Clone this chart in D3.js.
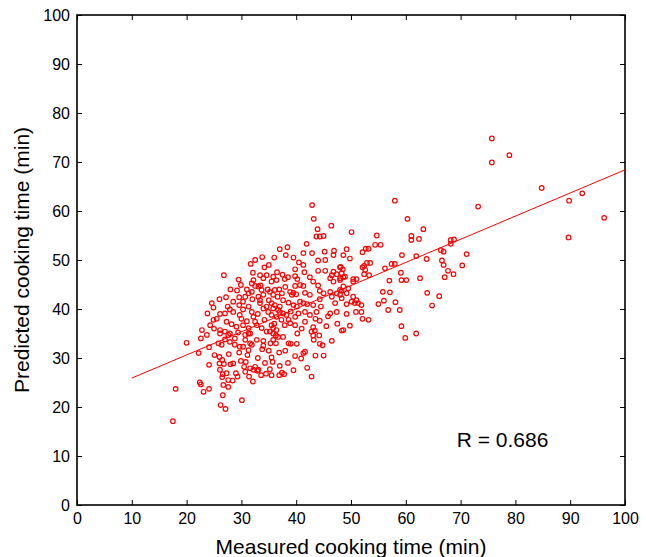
<!DOCTYPE html>
<html>
<head>
<meta charset="utf-8">
<script src="https://cdn.jsdelivr.net/npm/d3@7"></script>
<style>
  body { margin: 0; background: #fff; }
  text { font-family: "Liberation Sans", Arial, sans-serif; }
</style>
</head>
<body>
<svg id="chart" width="646" height="557"></svg>
<script>
// measured vs predicted cooking time (min)
const measured = [
  75.7, 75.7, 78.9, 84.8, 89.8, 92.2, 96.2, 89.7, 73.2,
  42.9, 58.0, 43.2, 60.3, 46.4, 43.9, 50.1, 63.2, 43.7, 44.3, 45.0, 54.7, 54.4, 55.4, 61.0, 61.0, 62.4,
  41.9, 38.4, 38.1, 41.3, 42.9, 45.2, 46.9, 49.2, 48.6, 49.8, 52.7, 53.2, 52.1, 59.3, 63.8, 68.2, 68.8, 68.2, 66.4, 66.9,
  71.1, 66.6, 66.9, 70.3, 67.7, 68.7, 67.1, 62.6, 63.9, 66.1, 64.8, 61.9,
  61.9, 53.5, 52.9, 52.4, 52.1, 57.4, 58.0, 56.2, 52.6, 52.4, 48.0, 48.3, 48.6, 48.0, 50.4, 51.0, 50.4, 53.3, 59.1,
  57.0, 59.2, 60.1, 48.6, 49.5, 48.0, 55.8, 57.1, 48.0, 48.3, 50.4, 51.0, 51.3, 50.7, 51.9, 50.1, 49.2, 55.0, 56.0,
  58.1, 56.8, 58.9, 50.9, 49.2, 51.9, 52.1, 53.2, 49.8, 59.2, 48.3, 59.9,
  35.8, 36.3, 36.7, 35.8, 36.3, 35.3, 37.6, 38.6, 39.0, 40.2, 40.1, 42.8, 43.1, 44.2, 43.2, 44.3, 44.8, 36.9, 35.5,
  35.7, 39.8, 40.9, 41.6, 41.3, 37.0, 35.2, 37.4, 37.8, 36.9, 35.5, 42.8,
  46.8, 41.3, 44.0, 45.3, 48.1, 48.5, 39.8, 44.0, 45.3, 46.8, 47.4, 48.9, 46.5, 46.2, 46.8, 48.0, 39.8, 40.2, 37.9,
  35.8, 36.4, 35.5, 43.1, 40.7, 41.3, 39.8, 38.9, 39.2, 39.5, 36.9, 37.4, 35.2, 35.8, 41.6, 42.5, 44.3, 45.0, 46.2,
  47.4, 48.3, 49.2, 46.5, 44.3, 43.1, 47.1, 40.7, 41.3, 39.5, 40.1, 37.6, 38.6, 35.5, 35.8, 37.0, 37.6, 38.2, 38.6,
  36.4, 37.3, 37.9, 38.9, 39.8, 40.4, 41.6, 42.5, 43.7, 46.2, 47.4, 41.6, 39.8, 43.1, 43.4, 44.3, 48.6, 35.5, 35.8, 35.2,
  33.8, 31.7, 26.8, 32.1, 33.4, 34.6, 34.0, 32.2, 31.9, 32.5, 29.9, 31.0, 31.3, 31.9, 27.2, 29.6, 30.7, 30.3, 33.1,
  33.7, 34.0, 33.1, 33.4, 36.1, 36.6, 24.6, 24.9, 23.8, 26.1, 27.0, 27.9, 28.5, 24.9, 24.3, 29.6, 30.3, 29.7, 31.3,
  31.9, 32.2, 32.5, 33.4, 34.0, 34.6, 34.9, 35.5, 36.1, 36.7, 27.3, 28.2, 29.1, 26.1, 27.0, 27.9, 30.3, 31.3, 31.6,
  30.7, 32.8, 33.7, 34.6, 36.4, 23.7, 22.8,
  20.0, 22.6, 22.2, 24.1, 24.1, 22.4, 22.6, 23.1, 24.1, 18.0, 17.5, 26.7, 27.6, 26.6, 26.2, 27.1, 30.1, 25.1, 26.0,
  26.5, 27.7, 26.0, 26.8, 28.0, 28.5, 29.0, 29.3, 26.1, 26.6, 27.3, 27.6, 26.5, 28.4, 29.6, 29.9, 30.5, 30.7, 31.4,
  32.1, 31.6, 32.2, 31.3, 31.6, 30.3, 32.5, 32.9, 26.1, 27.6, 29.4, 31.3, 32.8, 31.9, 30.7, 29.7, 28.8, 27.9, 27.0,
  26.4, 25.8, 31.1, 30.8, 33.1, 33.8, 34.3, 34.0, 34.5,
  28.5, 29.2, 30.0, 31.0, 32.0, 33.0, 34.2, 35.0, 36.0, 37.0, 38.0, 39.0, 40.0, 41.0, 42.0, 43.5, 44.5, 45.5,
  33.5, 34.8, 36.5, 37.5, 38.5, 34.2, 35.0, 36.0, 32.5, 29.5, 28.0, 27.5, 25.5, 26.0, 25.0, 28.8, 33.6, 33.0,
  34.0, 35.0, 38.0, 38.5, 39.5, 42.0, 43.5, 45.0, 46.5, 47.5, 45.8, 44.0, 42.5, 41.5, 40.5, 39.5, 37.0
];
const predicted = [
  74.8, 69.9, 71.4, 64.7, 62.1, 63.6, 58.6, 54.6, 60.9,
  61.2, 62.1, 58.4, 58.4, 57.0, 56.3, 55.7, 56.3, 54.8, 54.8, 54.9, 55.0, 53.1, 53.1, 54.9, 54.1, 54.3,
  53.3, 52.6, 51.0, 51.4, 51.4, 51.7, 51.9, 52.2, 51.0, 50.3, 52.3, 52.3, 51.6, 51.0, 50.2, 54.1, 54.2, 53.3, 52.0, 51.7,
  51.2, 49.9, 49.0, 48.9, 47.8, 47.1, 46.5, 46.3, 43.3, 42.6, 40.7, 35.0,
  50.8, 49.4, 49.4, 48.8, 48.5, 49.2, 49.2, 48.3, 48.0, 47.1, 48.5, 47.3, 46.5, 46.3, 46.1, 46.1, 45.6, 46.9, 47.4,
  45.8, 45.9, 45.9, 44.6, 44.2, 43.9, 43.5, 43.4, 42.9, 42.2, 42.5, 41.8, 41.2, 41.2, 40.8, 41.5, 41.0, 41.0, 41.7,
  41.4, 39.8, 39.8, 39.4, 39.0, 39.4, 38.0, 37.8, 36.6, 36.5, 35.6, 34.1,
  35.0, 34.6, 34.3, 33.7, 33.0, 33.0, 34.3, 33.0, 32.9, 35.0, 32.9, 35.4, 34.6, 34.6, 33.7, 32.9, 32.6, 31.1, 30.1,
  29.2, 30.4, 29.9, 31.3, 31.0, 28.4, 27.7, 27.0, 26.7, 26.5, 26.5, 26.2,
  51.0, 49.0, 49.9, 50.0, 48.6, 48.1, 48.1, 47.8, 47.8, 47.6, 47.1, 46.6, 46.9, 46.3, 45.6, 45.9, 46.7, 46.1, 46.1,
  46.6, 45.9, 45.6, 45.6, 44.9, 44.7, 44.7, 43.5, 42.9, 43.3, 44.0, 43.2, 43.5, 42.9, 43.3, 42.9, 43.7, 43.2, 43.5,
  43.2, 43.7, 43.2, 42.5, 42.0, 40.8, 41.2, 41.5, 41.2, 40.8, 40.5, 41.8, 41.3, 41.2, 40.1, 39.4, 39.1, 38.8, 37.8,
  38.4, 37.8, 36.7, 37.1, 38.4, 39.1, 39.4, 38.8, 39.4, 39.1, 39.4, 37.4, 36.7, 36.3, 35.6, 37.6, 35.7, 36.7, 36.1, 35.4,
  50.6, 49.2, 46.9, 47.4, 46.9, 46.9, 46.3, 45.9, 45.2, 44.7, 44.9, 44.0, 43.2, 43.5, 42.4, 42.4, 42.5, 41.5, 44.6,
  43.9, 42.9, 42.5, 41.8, 43.9, 42.5, 41.2, 40.3, 39.1, 39.0, 39.1, 39.9, 39.4, 37.8, 36.7, 40.8, 39.9, 38.8, 40.5,
  39.4, 38.4, 37.4, 41.2, 40.1, 40.5, 39.4, 38.8, 40.8, 39.8, 37.4, 36.9, 36.4, 35.7, 35.4, 35.0, 36.7, 36.1, 35.0,
  34.7, 36.7, 36.1, 35.4, 35.7, 34.7, 35.7,
  33.1, 34.0, 31.0, 32.2, 28.6, 25.0, 24.6, 23.1, 23.7, 23.7, 17.1, 24.5, 24.1, 22.4, 20.4, 19.6, 21.4, 30.6, 30.2,
  29.6, 30.8, 28.9, 28.8, 28.7, 28.9, 26.9, 26.2, 27.6, 26.7, 26.9, 25.5, 26.1, 25.4, 31.1, 29.4, 28.2, 27.2, 26.2,
  25.2, 27.9, 27.6, 31.6, 33.0, 32.3, 28.2, 27.4, 35.0, 34.7, 35.2, 35.0, 33.7, 32.7, 33.7, 32.3, 32.7, 33.3, 33.8,
  32.7, 33.0, 30.6, 29.2, 27.6, 31.8, 29.0, 33.5, 26.8,
  41.5, 43.8, 38.0, 37.5, 42.0, 39.0, 37.8, 41.8, 37.0, 40.5, 44.5, 39.5, 43.0, 36.0, 41.0, 38.0, 40.5, 36.5,
  44.8, 44.0, 47.5, 47.0, 46.5, 48.5, 49.0, 50.5, 50.0, 46.0, 44.0, 40.5, 38.0, 42.0, 36.0, 34.0, 26.5, 30.0,
  32.5, 31.5, 31.5, 29.0, 27.5, 28.0, 30.5, 30.5, 33.5, 37.0, 38.5, 44.8, 46.5, 47.5, 49.5, 50.5, 52.2
];
// fitted line end points
const fitX = [10, 100];
const fitY = [25.9, 68.4];
const xTicks = d3.range(0, 101, 10);
const yTicks = d3.range(0, 101, 10);
const rLabel = "R = 0.686";

const svg = d3.select("#chart"),
      margin = { top: 15, right: 21, bottom: 52, left: 77 },
      width = +svg.attr("width") - margin.left - margin.right,
      height = +svg.attr("height") - margin.top - margin.bottom;

const g = svg.append("g").attr("transform", `translate(${margin.left},${margin.top})`);

const x = d3.scaleLinear().domain([0, 100]).range([0, width]);
const y = d3.scaleLinear().domain([0, 100]).range([height, 0]);

// axes, ticks pointing inward like matlab
function styleAxis(sel) {
  sel.select(".domain").remove();
  sel.selectAll("line").attr("stroke", "#000");
  sel.selectAll("text").attr("font-size", 16).attr("fill", "#000");
}
g.append("g")
  .attr("transform", `translate(0,${height})`)
  .call(d3.axisBottom(x).tickValues(xTicks).tickSizeInner(-5).tickSizeOuter(0).tickPadding(8))
  .call(styleAxis);
g.append("g")
  .call(d3.axisLeft(y).tickValues(yTicks).tickSizeInner(-5).tickSizeOuter(0).tickPadding(7))
  .call(styleAxis);
g.append("g")
  .call(d3.axisTop(x).tickValues(xTicks).tickSizeInner(-5).tickSizeOuter(0).tickFormat(""))
  .call(styleAxis);
g.append("g")
  .attr("transform", `translate(${width},0)`)
  .call(d3.axisRight(y).tickValues(yTicks).tickSizeInner(-5).tickSizeOuter(0).tickFormat(""))
  .call(styleAxis);

g.append("rect")
  .attr("width", width)
  .attr("height", height)
  .attr("fill", "none")
  .attr("stroke", "#000")
  .attr("stroke-width", 1.6);

// points
const pts = measured.map((m, i) => ({ m, p: predicted[i] }));
g.selectAll(".pt")
  .data(pts)
  .enter()
  .append("circle")
  .attr("class", "pt")
  .attr("cx", d => x(d.m))
  .attr("cy", d => y(d.p))
  .attr("r", 2.3)
  .attr("fill", "none")
  .attr("stroke", "#ff0000")
  .attr("stroke-width", 1.2);

// regression line
g.append("line")
  .attr("x1", x(fitX[0])).attr("y1", y(fitY[0]))
  .attr("x2", x(fitX[1])).attr("y2", y(fitY[1]))
  .attr("stroke", "#ff0000")
  .attr("stroke-width", 1);

g.append("text")
  .attr("x", x(69.3))
  .attr("y", y(11.8))
  .attr("font-size", 21)
  .text(rLabel);

// axis titles
svg.append("text")
  .attr("x", margin.left + width / 2)
  .attr("y", 554)
  .attr("text-anchor", "middle")
  .attr("font-size", 21)
  .text("Measured cooking time (min)");

svg.append("text")
  .attr("transform", `translate(29,${margin.top + height / 2}) rotate(-90)`)
  .attr("text-anchor", "middle")
  .attr("font-size", 21)
  .text("Predicted cooking time (min)");
</script>
</body>
</html>
